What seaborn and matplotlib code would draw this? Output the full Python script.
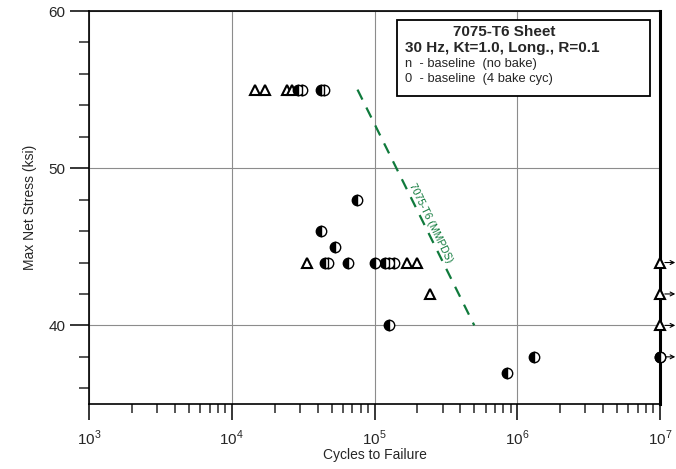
import matplotlib
matplotlib.use('Agg')
import matplotlib.pyplot as plt
import seaborn as sns
import pandas as pd

# data
tri_cycles = [14500, 17000, 24300, 26300, 33400, 170000, 200000, 246000, 1e7, 1e7, 1e7]
tri_stress = [55, 55, 55, 55, 44, 44, 44, 42, 44, 42, 40]

circ_cycles = [29000, 30900, 41900, 44000, 74800, 41900, 53300, 45000, 47000, 64700,
               100000, 118000, 126000, 137000, 127000, 851000, 1310000, 1e7, 1e7]
circ_stress = [55, 55, 55, 55, 48, 46, 45, 44, 44, 44,
               44, 44, 44, 44, 40, 37, 38, 38, 38]

runout_stress = [44, 42, 40, 38]

mmpds_cycles = [76000, 500000]
mmpds_stress = [55, 40]

tri_df = pd.DataFrame({'cycles': tri_cycles, 'stress': tri_stress})
circ_df = pd.DataFrame({'cycles': circ_cycles, 'stress': circ_stress})
curve_df = pd.DataFrame({'cycles': mmpds_cycles, 'stress': mmpds_stress})

sns.set_style('ticks')
plt.rcParams['font.family'] = ['Liberation Sans', 'DejaVu Sans']
plt.rcParams['mathtext.fontset'] = 'custom'
plt.rcParams['mathtext.rm'] = 'Liberation Sans'

fig = plt.figure(figsize=(6.76, 4.69), dpi=100)
ax = fig.add_axes([0.1317, 0.1386, 0.8446, 0.8379])

green = '#107a3c'
sns.lineplot(data=curve_df, x='cycles', y='stress', ax=ax, color=green,
             linestyle=(0, (5, 4)), lw=1.6, estimator=None, sort=False, zorder=3)

sns.lineplot(data=tri_df, x='cycles', y='stress', ax=ax, estimator=None, sort=False,
             linestyle='', marker='^', markersize=6.5, markerfacecolor='white',
             markeredgecolor='black', markeredgewidth=1.5, zorder=5, clip_on=False)
sns.lineplot(data=circ_df, x='cycles', y='stress', ax=ax, estimator=None, sort=False,
             linestyle='', marker='o', markersize=7.5, fillstyle='left',
             markerfacecolor='black', markerfacecoloralt='white',
             markeredgecolor='black', markeredgewidth=1.0, zorder=6, clip_on=False)

# run-out arrows
for s in runout_stress:
    ax.annotate('', xy=(1e7, s), xytext=(11, 0), textcoords='offset points',
                arrowprops=dict(arrowstyle='<-', color='black', lw=0.8,
                                shrinkA=0, shrinkB=3.5, mutation_scale=7),
                annotation_clip=False)

ax.text(2.48e5, 46.5, '7075-T6 (MMPDS)', color=green, fontsize=7.5,
        rotation=-64, ha='center', va='center', rotation_mode='anchor')

ax.set_xscale('log')
ax.set_xlim(1e3, 1e7)
ax.set_ylim(35, 60)
ax.set_xticks([1e3, 1e4, 1e5, 1e6, 1e7])
ax.set_xticklabels([r'$10^{3}$', r'$10^{4}$', r'$10^{5}$', r'$10^{6}$', r'$10^{7}$'])
ax.set_yticks([40, 50, 60])
ax.set_yticks([36, 38, 42, 44, 46, 48, 52, 54, 56, 58], minor=True)
ax.tick_params(axis='both', which='major', labelsize=11, width=1.1, color='black')
ax.tick_params(axis='y', which='major', length=14, pad=3)
ax.tick_params(axis='y', which='minor', length=7, width=1.1)
ax.tick_params(axis='x', which='major', length=11.5, pad=6)
ax.tick_params(axis='x', which='minor', length=6.5, width=1.1)

ax.grid(True, which='major', color='#8c8c8c', lw=0.8)
ax.set_axisbelow(True)
for side in ['left', 'bottom', 'top']:
    ax.spines[side].set_linewidth(1.2)
    ax.spines[side].set_color('black')
ax.spines['right'].set_linewidth(2.2)
ax.spines['right'].set_color('black')

ax.set_xlabel('Cycles to Failure', fontsize=10, labelpad=0)
ax.set_ylabel('Max Net Stress (ksi)', fontsize=10, labelpad=8)

# legend box
rect = plt.Rectangle((0.5397, 0.784), 0.4431, 0.193, transform=ax.transAxes,
                     facecolor='white', edgecolor='black', lw=1.3, zorder=7)
ax.add_patch(rect)
ax.text(0.7277, 0.9466, '7075-T6 Sheet', transform=ax.transAxes, fontsize=11,
        fontweight='bold', ha='center', va='center', zorder=8)
ax.text(0.553, 0.906, '30 Hz, Kt=1.0, Long., R=0.1', transform=ax.transAxes,
        fontsize=11, fontweight='bold', ha='left', va='center', zorder=8)
ax.text(0.553, 0.866, 'n  - baseline  (no bake)', transform=ax.transAxes,
        fontsize=9.3, ha='left', va='center', zorder=8)
ax.text(0.553, 0.828, '0  - baseline  (4 bake cyc)', transform=ax.transAxes,
        fontsize=9.3, ha='left', va='center', zorder=8)

fig.savefig('out.png', dpi=100)
